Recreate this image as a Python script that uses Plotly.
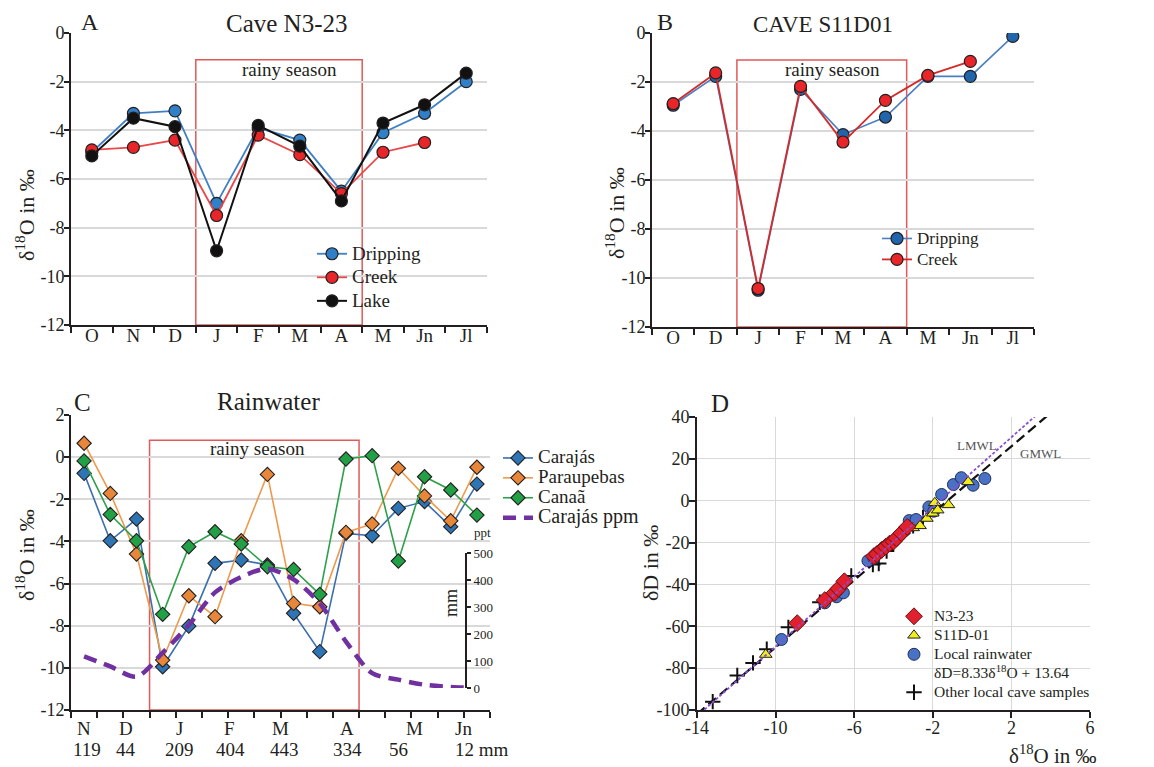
import plotly.graph_objects as go

W, H = 1154, 767
FONT = "Liberation Serif"
INK = "#231f20"
BODY = 8  # page body margin offset of the browser

def px(x):
    return (x - BODY) / W

def py(y):
    return 1 - (y - BODY) / H

def big(s, size):
    return "<br>".join('<span style="font-size:%gpx">%s</span>' % (size, part) for part in s.split("<br>"))

# ---------------- Panel A : Cave N3-23 ----------------
a_months = ["O", "N", "D", "J", "F", "M", "A", "M", "Jn", "Jl"]
a_dripping = [-4.9, -3.3, -3.2, -7.0, -3.9, -4.4, -6.5, -4.1, -3.3, -2.0]
a_creek = [-4.8, -4.7, -4.4, -7.5, -4.2, -5.0, -6.6, -4.9, -4.5, None]
a_lake = [-5.05, -3.5, -3.85, -8.95, -3.8, -4.65, -6.9, -3.7, -2.95, -1.65]

# ---------------- Panel B : Cave S11D01 ----------------
b_months = ["O", "D", "J", "F", "M", "A", "M", "Jn", "Jl"]
b_dripping = [-2.95, -1.77, -10.5, -2.3, -4.15, -3.43, -1.77, -1.77, -0.14]
b_creek = [-2.88, -1.63, -10.43, -2.18, -4.45, -2.75, -1.73, -1.16, None]

# ---------------- Panel C : Rainwater ----------------
c_carajas = [-0.77, -3.97, -2.94, -9.95, -8.02, -5.04, -4.88, -5.12, -7.41, -9.23,
             -3.62, -3.73, -2.43, -2.11, -3.30, -1.28]
c_paraupebas = [0.66, -1.72, -4.60, -9.63, -6.58, -7.57, -3.97, -0.82, -6.94, -7.10,
                -3.57, -3.17, -0.53, -1.84, -3.02, -0.48]
c_canaa = [-0.18, -2.72, -3.97, -7.46, -4.25, -3.54, -4.12, -5.20, -5.33, -6.51,
           -0.09, 0.07, -4.93, -0.93, -1.56, -2.75]
c_ppm_pos = [0, 1, 2, 3, 4, 5, 6, 7, 8, 9, 10, 11, 12, 13, 14, 14.5]
c_ppm_mm = [117, 80, 42, 131, 233, 354, 411, 442, 402, 313, 172, 55, 31, 12, 4, 2]
c_month_labels = ["N", "D", "J", "F", "M", "A", "M", "Jn"]
c_month_pos = [0, 1.6, 3.65, 5.55, 7.5, 10.05, 12.6, 14.5]
c_mm_labels = ["119", "44", "209", "404", "443", "334", "56", "12 mm"]
c_mm_pos = [0.1, 1.6, 3.65, 5.6, 7.65, 10.05, 12.0, 15.2]

# ---------------- Panel D : dD vs d18O ----------------
d_n323_x = [-8.9, -7.5, -7.0, -6.8, -6.5, -5.0, -4.85, -4.6, -4.4, -4.2, -4.0, -3.85, -3.6, -3.3]
d_n323_y = [-58.5, -47.5, -44, -42, -38.5, -26.5, -25.5, -23.5, -22, -20.5, -19.5, -18, -15.5, -12.5]
d_s11_x = [-10.5, -4.3, -3.75, -3.0, -2.65, -2.3, -2.0, -1.9, -1.75, -1.2, -0.2]
d_s11_y = [-73.5, -22, -16, -13, -12, -8.5, -6, -1, -4.5, -2, 9]
d_rain_x = [-9.7, -7.5, -6.9, -6.55, -5.3, -5.0, -3.2, -2.85, -2.2, -1.95, -1.55, -0.95, -0.55, 0.05, 0.65]
d_rain_y = [-66.3, -48.8, -45.9, -44, -28.7, -27.5, -9.5, -9, -3, -5, 3, 7.7, 11, 7.4, 10.6]
d_cave_x = [-13.2, -11.95, -11.15, -10.45, -9.35, -7.75, -6.15, -5.05, -4.75, -4.35, -3.0, -2.5]
d_cave_y = [-96, -83.5, -77.5, -71, -60.5, -48.5, -36, -30.5, -30, -24, -12, -8]
lmwl_slope, lmwl_int = 8.33, 13.64
gmwl_slope, gmwl_int = 8.0, 10.0
lmwl_label = "δD=8.33δ<sup>18</sup>O + 13.64"
line_x = [-14, 6]

# rainy season spans (category boundaries) and box top
a_rainy = (2.5, 6.5, -1.1)
b_rainy = (1.5, 5.5, -1.1)
c_rainy = (2.5, 10.5, 0.8)

y_ab_vals = [0, -2, -4, -6, -8, -10, -12]
y_ab_text = ["0", "-2", "-4", "-6", "-8", "-10", "-12"]
y_c_vals = [2, 0, -2, -4, -6, -8, -10, -12]
y_c_text = ["2", "0", "-2", "-4", "-6", "-8", "-10", "-12"]
d_x_vals = [-14, -10, -6, -2, 2, 6]
d_x_text = ["-14", "-10", "-6", "-2", "2", "6"]
d_y_vals = [40, 20, 0, -20, -40, -60, -80, -100]
d_y_text = ["40", "20", "0", "-20", "-40", "-60", "-80", "-100"]
ppm_vals = [0, 100, 200, 300, 400, 500]

fig = go.Figure()

def circ(fill):
    return dict(symbol="circle", size=12, color=fill, line=dict(color=INK, width=1.2))

# Panel A traces
ax_ = list(range(len(a_months)))
fig.add_trace(go.Scatter(x=ax_, y=a_dripping, mode="lines+markers", name=big("Dripping", 19),
                         line=dict(color="#3f7fc4", width=1.8), marker=circ("#2f80c8"),
                         xaxis="x", yaxis="y", legend="legend"))
fig.add_trace(go.Scatter(x=ax_, y=a_creek, mode="lines+markers", name=big("Creek", 19),
                         line=dict(color="#e8484a", width=1.8), marker=circ("#e8262a"),
                         xaxis="x", yaxis="y", legend="legend"))
fig.add_trace(go.Scatter(x=ax_, y=a_lake, mode="lines+markers", name=big("Lake", 19),
                         line=dict(color="#111111", width=2), marker=circ("#111111"),
                         xaxis="x", yaxis="y", legend="legend"))

# Panel B traces
bx_ = list(range(len(b_months)))
fig.add_trace(go.Scatter(x=bx_, y=b_dripping, mode="lines+markers", name=big("Dripping", 17),
                         line=dict(color="#4a7fc0", width=1.6), marker=circ("#2166ac"),
                         xaxis="x2", yaxis="y2", legend="legend2"))
fig.add_trace(go.Scatter(x=bx_, y=b_creek, mode="lines+markers", name=big("Creek", 17),
                         line=dict(color="#d42a2a", width=1.8), marker=circ("#e8262a"),
                         xaxis="x2", yaxis="y2", legend="legend2"))

# Panel C traces
cx_ = list(range(len(c_carajas)))
def diam(fill):
    return dict(symbol="diamond", size=11, color=fill, line=dict(color=INK, width=1.1))
fig.add_trace(go.Scatter(x=cx_, y=c_carajas, mode="lines+markers", name=big("Carajás", 19),
                         line=dict(color="#3a6fb0", width=1.6), marker=diam("#2e75b6"),
                         xaxis="x3", yaxis="y3", legend="legend3"))
fig.add_trace(go.Scatter(x=cx_, y=c_paraupebas, mode="lines+markers", name=big("Paraupebas", 19),
                         line=dict(color="#ed9a4c", width=1.6), marker=diam("#e8873a"),
                         xaxis="x3", yaxis="y3", legend="legend3"))
fig.add_trace(go.Scatter(x=cx_, y=c_canaa, mode="lines+markers", name=big("Canaã", 19),
                         line=dict(color="#2ea04a", width=1.6), marker=diam("#22a046"),
                         xaxis="x3", yaxis="y3", legend="legend3"))
fig.add_trace(go.Scatter(x=c_ppm_pos, y=c_ppm_mm, mode="lines", name=big("Carajás ppm", 20),
                         line=dict(color="#7030a0", width=4.5, dash="13px,8px", shape="spline", smoothing=0.8),
                         xaxis="x3", yaxis="y5", legend="legend3"))

# Panel D traces
fig.add_trace(go.Scatter(x=line_x, y=[gmwl_slope * v + gmwl_int for v in line_x], mode="lines",
                         line=dict(color="#111111", width=2.2, dash="10px,5px"), showlegend=False,
                         xaxis="x4", yaxis="y4"))
fig.add_trace(go.Scatter(x=d_cave_x, y=d_cave_y, mode="markers", name=big("Other local cave samples", 15.5),
                         marker=dict(symbol="cross-thin", size=11, line=dict(color="#111111", width=2)),
                         xaxis="x4", yaxis="y4", legend="legend4", legendrank=5))
fig.add_trace(go.Scatter(x=d_rain_x, y=d_rain_y, mode="markers",
                         name=big("Local rainwater", 15.5),
                         marker=dict(symbol="circle", size=12, color="#4a72c4", line=dict(color="#1f2f5a", width=1)),
                         xaxis="x4", yaxis="y4", legend="legend4", legendrank=3))
fig.add_trace(go.Scatter(x=[None], y=[None], mode="none", name=big(lmwl_label, 15.5),
                         xaxis="x4", yaxis="y4", legend="legend4", legendrank=4, hoverinfo="skip"))
fig.add_trace(go.Scatter(x=d_s11_x, y=d_s11_y, mode="markers", name=big("S11D-01", 15.5),
                         marker=dict(symbol="triangle-up", size=11, color="#f2ee1c", line=dict(color=INK, width=1)),
                         xaxis="x4", yaxis="y4", legend="legend4", legendrank=2))
fig.add_trace(go.Scatter(x=d_n323_x, y=d_n323_y, mode="markers", name=big("N3-23", 15.5),
                         marker=dict(symbol="diamond", size=13, color="#e0202e", line=dict(color="#6a1010", width=1)),
                         xaxis="x4", yaxis="y4", legend="legend4", legendrank=1))
fig.add_trace(go.Scatter(x=line_x, y=[lmwl_slope * v + lmwl_int for v in line_x], mode="lines",
                         line=dict(color="#8a4fd0", width=1.8, dash="3px,2px"), showlegend=False,
                         xaxis="x4", yaxis="y4"))

GRID = "#d9d9d9"
tickf = dict(family=FONT, size=18, color=INK)

def cat_xaxis(n, labels, domain, anchor, show_labels=True):
    return dict(domain=domain, anchor=anchor, range=[-0.5, n - 0.5], automargin=False,
                tickmode="array", tickvals=list(range(n)) if show_labels else [],
                ticktext=labels if show_labels else [], ticks="", ticklabelstandoff=-8,
                showticklabels=show_labels,
                tickfont=dict(family=FONT, size=19, color=INK),
                showline=True, linecolor=INK, linewidth=2, showgrid=False, zeroline=False,
                minor=dict(tickmode="array", tickvals=[i - 0.5 for i in range(n + 1)],
                           ticks="outside", ticklen=6, tickcolor=INK, tickwidth=1.5, showgrid=False))

def val_yaxis(domain, anchor, rng, vals, text):
    return dict(domain=domain, anchor=anchor, range=rng, tickmode="array", tickvals=vals,
                ticktext=text, ticks="outside", ticklen=5, tickcolor=INK, tickwidth=1.5,
                ticklabelstandoff=-4,
                tickfont=tickf, showline=True, linecolor=INK, linewidth=2, automargin=False,
                showgrid=True, gridcolor=GRID, gridwidth=1.5, zeroline=False)

def leg(x, ytop, fs):
    return dict(x=px(x), y=py(ytop), xanchor="left", yanchor="top", bgcolor="rgba(0,0,0,0)",
                font=dict(family=FONT, size=fs, color=INK), itemwidth=30, valign="top")

layout = dict(
    width=W, height=H, autosize=False,
    margin=dict(l=0, r=0, t=0, b=0, pad=0, autoexpand=False),
    paper_bgcolor="white", plot_bgcolor="rgba(0,0,0,0)",
    font=dict(family=FONT, color=INK),
    xaxis=cat_xaxis(10, a_months, [px(71), px(487)], "y"),
    yaxis=val_yaxis([py(325), py(33)], "x", [-12, 0], y_ab_vals, y_ab_text),
    xaxis2=cat_xaxis(9, b_months, [px(652), px(1034)], "y2"),
    yaxis2=val_yaxis([py(327), py(33)], "x2", [-12, 0], y_ab_vals, y_ab_text),
    xaxis3=cat_xaxis(16, [], [px(71), px(490)], "y3", show_labels=False),
    yaxis3=val_yaxis([py(710), py(415)], "x3", [-12, 2], y_c_vals, y_c_text),
    yaxis5=dict(domain=[py(688), py(553)], anchor="free", position=px(466), side="right",
                range=[0, 500], tickmode="array", tickvals=ppm_vals, ticks="outside",
                ticklen=4, tickcolor=INK, tickwidth=1.5, automargin=False,
                tickfont=dict(family=FONT, size=13, color=INK),
                showline=True, linecolor=INK, linewidth=2, showgrid=False, zeroline=False),
    xaxis4=dict(domain=[px(697), px(1090)], anchor="y4", range=[-14, 6], tickmode="array",
                tickvals=d_x_vals, ticktext=d_x_text, ticks="outside", ticklen=6, tickcolor=INK,
                tickwidth=1.5, tickfont=tickf, showline=True, linecolor=INK, linewidth=2,
                ticklabelstandoff=-6,
                showgrid=True, gridcolor=GRID, gridwidth=1.2, zeroline=False, automargin=False),
    yaxis4=dict(domain=[py(710), py(417)], anchor="x4", range=[-100, 40], tickmode="array",
                tickvals=d_y_vals, ticktext=d_y_text, ticks="outside", ticklen=6, tickcolor=INK,
                tickwidth=1.5, tickfont=tickf, showline=True, linecolor=INK, linewidth=2,
                ticklabelstandoff=-4,
                showgrid=True, gridcolor=GRID, gridwidth=1.2, zeroline=False, automargin=False),
    legend=leg(312, 237, 15.8),
    legend2=leg(877, 223, 13.8),
    legend3=leg(498, 443, 13),
    legend4=leg(894, 602, 12),
)
fig.update_layout(**layout)

# rainy season boxes
shapes = []
for (x0, x1, top), xr, yr in [(a_rainy, "x", "y"), (b_rainy, "x2", "y2"), (c_rainy, "x3", "y3")]:
    shapes.append(dict(type="rect", xref=xr, yref=yr, x0=x0, x1=x1, y0=-12, y1=top,
                       line=dict(color="#e05a5a", width=1.5), fillcolor="rgba(0,0,0,0)", layer="below"))
fig.update_layout(shapes=shapes)

ann = []
def txt(x, y, s, size, **kw):
    d = dict(x=x, y=y, xref=kw.pop("xref", "paper"), yref=kw.pop("yref", "paper"), text=s,
             showarrow=False, xanchor="center", yanchor="middle",
             font=dict(family=FONT, size=size, color=kw.pop("color", INK)))
    d.update(kw)
    ann.append(d)

# panel letters and titles
txt(px(90), py(22), "A", 24)
txt(px(287), py(24), "Cave N3-23", 25)
txt(px(665), py(22), "B", 24)
txt(px(823), py(25), "CAVE S11D01", 23)
txt(px(82), py(402), "C", 25)
txt(px(268), py(401), "Rainwater", 25)
txt(px(720), py(403), "D", 25)

# rainy season labels
txt(4.75, -1.5, "rainy season", 19, xref="x", yref="y")
txt(3.75, -1.5, "rainy season", 19, xref="x2", yref="y2")
txt(6.64, 0.39, "rainy season", 19, xref="x3", yref="y3")

# y-axis titles
ytitle = "δ<sup>18</sup>O in ‰"
txt(px(25), py(215), ytitle, 22, textangle=-90)
txt(px(615), py(213), ytitle, 22, textangle=-90)
txt(px(25), py(555), ytitle, 22, textangle=-90)
txt(px(650), py(563), "δD in ‰", 22, textangle=-90)
txt(px(1053), py(754), "δ<sup>18</sup>O in ‰", 21)

# panel C secondary axis labels
txt(px(482), py(532), "ppt", 13)
txt(px(451), py(603), "mm", 18, textangle=-90)

# panel C month and precipitation labels
for lab, pos in zip(c_month_labels, c_month_pos):
    txt(pos, py(728), lab, 19, xref="x3")
for lab, pos in zip(c_mm_labels, c_mm_pos):
    txt(pos, py(749), lab, 19, xref="x3")

# meteoric water line labels
txt(px(977), py(445), "LMWL", 13, color="#555555")
txt(px(1040), py(453), "GMWL", 13, color="#555555")

fig.update_layout(annotations=ann)
fig.write_html("out.html")
